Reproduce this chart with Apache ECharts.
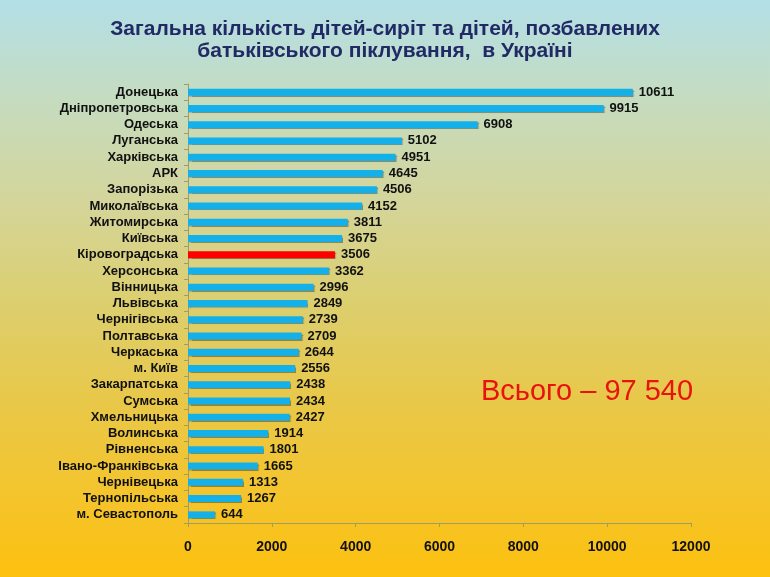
<!DOCTYPE html>
<html>
<head>
<meta charset="utf-8">
<script src="https://cdn.jsdelivr.net/npm/echarts@6/dist/echarts.min.js"></script>
<style>
html,body{margin:0;padding:0;}
#chart{width:770px;height:577px;background:linear-gradient(to bottom,#b3dfe7 0%,#c5dcc0 17%,#d4d59a 35%,#dccf70 52%,#e8c84a 69%,#f5c42a 87%,#fcc10f 100%);}
</style>
</head>
<body>
<div id="chart"></div>
<script>
const titleLines = ['Загальна кількість дітей-сиріт та дітей, позбавлених', 'батьківського піклування,  в Україні'];
const categories = ['Донецька','Дніпропетровська','Одеська','Луганська','Харківська','АРК','Запорізька','Миколаївська','Житомирська','Київська','Кіровоградська','Херсонська','Вінницька','Львівська','Чернігівська','Полтавська','Черкаська','м. Київ','Закарпатська','Сумська','Хмельницька','Волинська','Рівненська','Івано-Франківська','Чернівецька','Тернопільська','м. Севастополь'];
const values = [10611,9915,6908,5102,4951,4645,4506,4152,3811,3675,3506,3362,2996,2849,2739,2709,2644,2556,2438,2434,2427,1914,1801,1665,1313,1267,644];
const highlightCategory = 'Кіровоградська';
const xTicks = [0,2000,4000,6000,8000,10000,12000];
const totalLabel = 'Всього – 97 540';

const chart = echarts.init(document.getElementById('chart'));
const barColor = '#14b0ea';
const data = values.map((v,i)=>({
  value: v,
  itemStyle: { color: categories[i] === highlightCategory ? '#ff0000' : barColor }
}));
chart.setOption({
  animation: false,
  title: [{
    text: titleLines.join('\n'),
    left: 'center',
    top: 13,
    textStyle: { fontFamily: '"Liberation Sans", Arial, sans-serif', fontWeight: 'bold', fontSize: 21, color: '#222a66', lineHeight: 22 }
  },{
    text: totalLabel,
    left: 476,
    top: 372,
    textStyle: { fontFamily: '"Liberation Sans", Arial, sans-serif', fontWeight: 'normal', fontSize: 29, color: '#e8130c' }
  }],
  grid: { left: 188, right: 79, top: 84, bottom: 54, containLabel: false },
  xAxis: {
    type: 'value',
    min: xTicks[0], max: xTicks[xTicks.length-1], interval: 2000,
    splitLine: { show: false },
    axisLine: { show: true, lineStyle: { color: '#a09c6a', width: 1 } },
    axisTick: { show: true, length: 4, lineStyle: { color: '#a09c6a' } },
    axisLabel: { margin: 17, formatter: v => String(v), fontFamily: '"Liberation Sans", Arial, sans-serif', fontWeight: 'bold', fontSize: 14, color: '#111' }
  },
  yAxis: {
    type: 'category',
    data: categories,
    inverse: true,
    axisLine: { show: true, lineStyle: { color: '#a09c6a', width: 1 } },
    axisTick: { show: true, length: 4, interval: 0, alignWithLabel: false, lineStyle: { color: '#a09c6a' } },
    axisLabel: { interval: 0, margin: 10, fontFamily: '"Liberation Sans", Arial, sans-serif', fontWeight: 'bold', fontSize: 13, color: '#111' }
  },
  series: [{
    type: 'bar',
    data: data,
    barWidth: 7,
    itemStyle: { shadowColor: 'rgba(0,0,0,0.35)', shadowOffsetX: 1, shadowOffsetY: 1, shadowBlur: 1 },
    label: { show: true, position: 'right', distance: 6, fontFamily: '"Liberation Sans", Arial, sans-serif', fontWeight: 'bold', fontSize: 13, color: '#111' }
  }]
});
</script>
</body>
</html>
